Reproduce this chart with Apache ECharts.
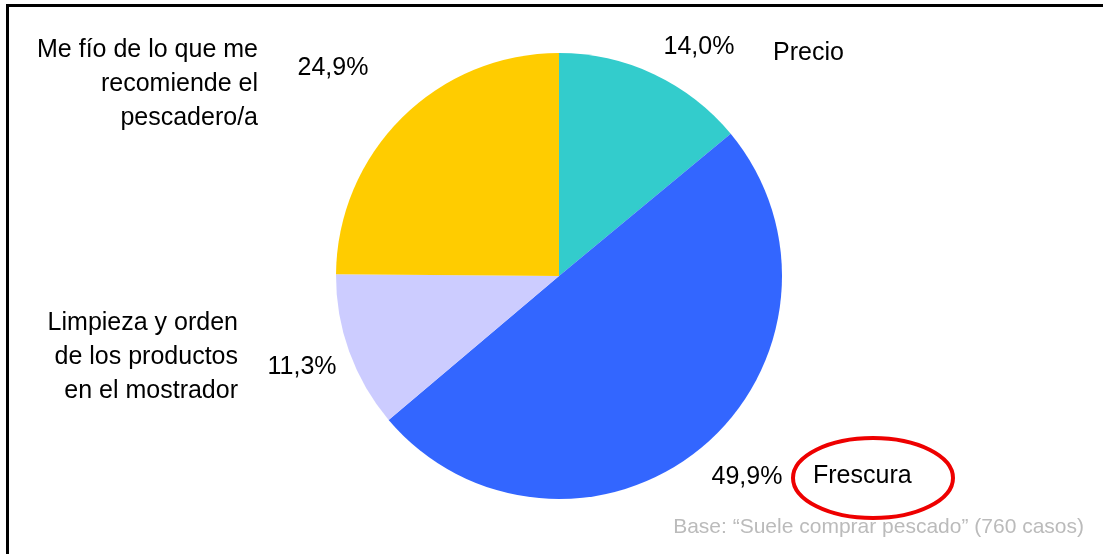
<!DOCTYPE html>
<html>
<head>
<meta charset="utf-8">
<script src="https://cdn.jsdelivr.net/npm/echarts@6/dist/echarts.min.js"></script>
<style>
  html, body { margin: 0; padding: 0; background: #fff; }
  #chart { width: 1103px; height: 554px; }
</style>
</head>
<body>
<div id="chart"></div>
<script>
// datos
var categorias = ['Precio', 'Frescura', 'Limpieza y orden\nde los productos\nen el mostrador', 'Me fío de lo que me\nrecomiende el\npescadero/a'];
var valores = [14.0, 49.9, 11.3, 24.9];
var colores = ['#33CCCC', '#3366FF', '#CCCCFF', '#FFCC00'];
var nota = 'Base: \u201CSuele comprar pescado\u201D (760 casos)';

// posiciones de las etiquetas (x, y, alineacion)
var posPct = [[699, 47, 'center'], [747, 477, 'center'], [302, 367, 'center'], [333, 68, 'center']];
var posNom = [[773, 53, 'left'], [813, 476, 'left'], [238, 357, 'right'], [258, 84, 'right']];

var chart = echarts.init(document.getElementById('chart'));
var datos = categorias.map(function(c, i) {
    return {name: c, value: valores[i], itemStyle: {color: colores[i]}};
});

var fuente = 'Liberation Sans, Arial, sans-serif';

var option = {
    animation: false,
    graphic: [
        {
            type: 'rect',
            shape: {x: 7.5, y: 5.5, width: 1200, height: 700},
            style: {fill: 'none', stroke: '#000', lineWidth: 3},
            z: 0
        },
        {
            type: 'ellipse',
            shape: {cx: 873, cy: 478, rx: 80, ry: 40},
            style: {fill: 'none', stroke: '#EE0000', lineWidth: 4},
            z: 10
        },
        {
            type: 'text',
            right: 19,
            top: 517,
            style: {text: nota, fill: '#BBBBBB', font: '21px ' + fuente}
        }
    ],
    series: [
        {
            type: 'pie',
            center: [559, 276],
            radius: 223,
            startAngle: 90,
            clockwise: true,
            data: datos,
            itemStyle: {borderColor: '#fff', borderWidth: 2},
            label: {
                show: true,
                formatter: function(p) { return p.value.toFixed(1).replace('.', ',') + '%'; },
                fontSize: 25,
                fontFamily: fuente,
                color: '#000'
            },
            labelLine: {show: false},
            labelLayout: function(p) {
                var q = posPct[p.dataIndex];
                return {x: q[0], y: q[1], align: q[2], verticalAlign: 'middle'};
            },
            emphasis: {disabled: true}
        },
        {
            type: 'pie',
            center: [559, 276],
            radius: 223,
            startAngle: 90,
            clockwise: true,
            silent: true,
            data: datos,
            itemStyle: {color: 'rgba(0,0,0,0)'},
            label: {
                show: true,
                formatter: '{b}',
                fontSize: 25,
                lineHeight: 34,
                fontFamily: fuente,
                color: '#000'
            },
            labelLine: {show: false},
            labelLayout: function(p) {
                var q = posNom[p.dataIndex];
                return {x: q[0], y: q[1], align: q[2], verticalAlign: 'middle'};
            },
            emphasis: {disabled: true}
        }
    ]
};
chart.setOption(option);
</script>
</body>
</html>
